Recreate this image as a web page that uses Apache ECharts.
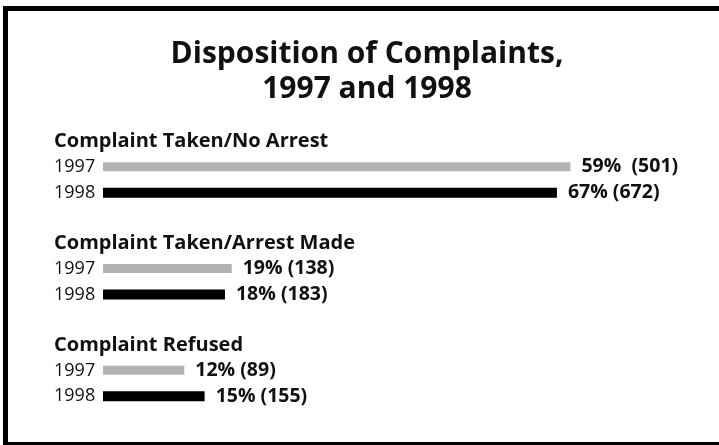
<!DOCTYPE html>
<html>
<head>
<meta charset="utf-8">
<title>Disposition of Complaints, 1997 and 1998</title>
<script src="https://cdn.jsdelivr.net/npm/echarts@6/dist/echarts.min.js"></script>
<style>
    html, body { margin: 0; padding: 0; background: #fff; overflow: hidden; }
    #main { width: 719px; height: 445px; }
</style>
</head>
<body>
<div id="main"></div>
<script>
// data
var categories = ['Complaint Taken/No Arrest', 'Complaint Taken/Arrest Made', 'Complaint Refused'];
var years = ['1997', '1998'];
// bar lengths as drawn (percent); the first 1997 bar is drawn at ~69 although it is labelled 59%
var bars1997 = [69, 19, 12];
var bars1998 = [67, 18, 15];
var labels1997 = ['59%  (501)', '19% (138)', '12% (89)'];
var labels1998 = ['67% (672)', '18% (183)', '15% (155)'];

// rows: heading, 1997, 1998, blank ...
var rows = [];
var data1997 = [];
var data1998 = [];
var rowLabels = {};
categories.forEach(function (name, i) {
    if (i > 0) {
        rows.push('');
        data1997.push('-');
        data1998.push('-');
    }
    rows.push('{h|' + name + '}');
    data1997.push('-');
    data1998.push('-');

    rows.push('{y|' + years[0] + '}');
    rowLabels[rows.length - 1] = labels1997[i];
    data1997.push(bars1997[i]);
    data1998.push('-');

    rows.push('{y|' + years[1] + '}');
    rowLabels[rows.length - 1] = labels1998[i];
    data1997.push('-');
    data1998.push(bars1998[i]);
});

var font = '"Open Sans", sans-serif';

var valueLabel = {
    show: true,
    position: 'right',
    distance: 11,
    color: '#111',
    fontFamily: font,
    fontWeight: 'bold',
    fontSize: 19.5,
    formatter: function (p) {
        return rowLabels[p.dataIndex];
    }
};

var myChart = echarts.init(document.getElementById('main'));
myChart.setOption({
    animation: false,
    title: {
        text: 'Disposition of Complaints,\n1997 and 1998',
        left: 367,
        top: 37,
        padding: 0,
        textAlign: 'center',
        textStyle: {
            fontFamily: font,
            fontWeight: 'bold',
            fontSize: 30,
            lineHeight: 35,
            color: '#111'
        }
    },
    // frame: top, left and bottom edges only (right edge is cut off)
    graphic: [{
        type: 'rect',
        shape: { x: 3, y: 6, width: 716, height: 5 },
        style: { fill: '#000' },
        silent: true
    }, {
        type: 'rect',
        shape: { x: 3, y: 6, width: 5, height: 439 },
        style: { fill: '#000' },
        silent: true
    }, {
        type: 'rect',
        shape: { x: 3, y: 442, width: 716, height: 3 },
        style: { fill: '#000' },
        silent: true
    }],
    grid: {
        left: 103,
        top: 129,
        width: 542,
        height: 280
    },
    xAxis: {
        type: 'value',
        min: 0,
        max: 80,
        show: false
    },
    yAxis: {
        type: 'category',
        inverse: true,
        data: rows,
        axisLine: { show: false },
        axisTick: { show: false },
        splitLine: { show: false },
        axisLabel: {
            interval: 0,
            align: 'left',
            margin: 49,
            rich: {
                h: {
                    fontFamily: font,
                    fontWeight: 'bold',
                    fontSize: 20,
                    color: '#111'
                },
                y: {
                    fontFamily: font,
                    fontSize: 18,
                    color: '#111'
                }
            }
        }
    },
    series: [{
        name: years[0],
        type: 'bar',
        data: data1997,
        barWidth: 9,
        barGap: '-100%',
        itemStyle: { color: '#b3b3b3' },
        label: valueLabel
    }, {
        name: years[1],
        type: 'bar',
        data: data1998,
        barWidth: 10,
        barGap: '-100%',
        itemStyle: { color: '#000' },
        label: valueLabel
    }]
});
</script>
</body>
</html>
